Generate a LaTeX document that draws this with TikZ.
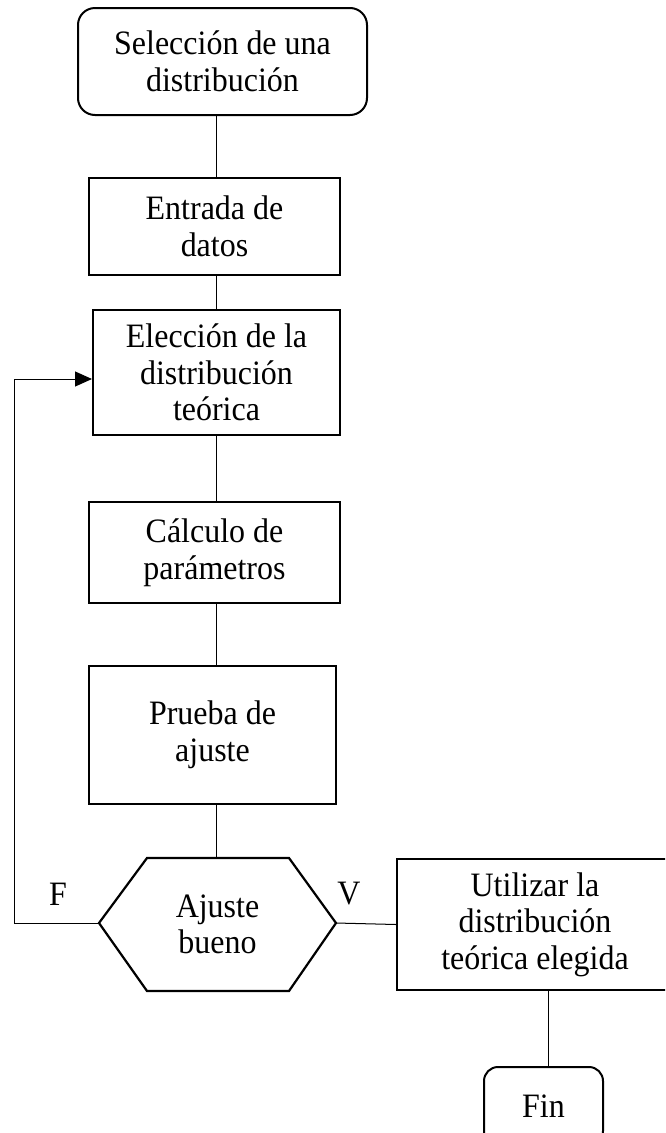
\documentclass[tikz,border=0pt]{standalone}
\usepackage{fontspec}
\setmainfont{Liberation Serif}
\newfontfamily\tallserif[FakeStretch=0.935]{Liberation Serif}
\usetikzlibrary{arrows.meta}
\begin{document}
\begin{tikzpicture}[x=1pt,y=-1pt,
  txt/.style={font=\tallserif\fontsize{34.2}{36.5}\selectfont, align=center, inner sep=0pt},
  box/.style={txt, draw, line width=2pt},
  rbox/.style={box, rounded corners=17pt},
  conn/.style={draw, line width=1pt},
  hexline/.style={draw, line width=2.2pt, line join=miter}]
\useasboundingbox (0,0) rectangle (665,1133);
\clip (0,0) rectangle (665,1133);
% spine
\coordinate (sx) at (216,0);
\coordinate (fx) at (548,0);
% nodes
\node[rbox, minimum width=289pt, minimum height=107pt] (start) at (222.5,61.5) {Selección de una\\distribución};
\node[box, minimum width=251pt, minimum height=97pt] (entrada) at (214.5,226.5) {Entrada de\\datos};
\node[box, minimum width=247pt, minimum height=125pt] (eleccion) at (216.5,372.5) {Elección de la\\distribución\\teórica};
\node[box, minimum width=251pt, minimum height=101pt] (calculo) at (214.5,552.5) {Cálculo de\\parámetros};
\node[box, minimum width=247pt, minimum height=138pt] (prueba) at (212.5,735) {Prueba de\\ajuste};
\node[txt] (ajuste) at (217.5,924.5) {Ajuste\\bueno};
\coordinate (hl) at (99,923);
\coordinate (hr) at (336,923);
\coordinate (htl) at (147,858);
\coordinate (htr) at (289,858);
\coordinate (hbl) at (147,991);
\coordinate (hbr) at (289,991);
\path[hexline] (hl) -- (htl) -- (htr) -- (hr) -- (hbr) -- (hbl) -- cycle;
\node[box, minimum width=276pt, minimum height=131pt] (utilizar) at (535,924.5) {Utilizar la\\distribución\\teórica elegida};
\node[rbox, rounded corners=14pt, minimum width=119pt, minimum height=78pt] (fin) at (543.5,1106) {Fin};
\node[txt] (lf) at (58,894) {F};
\node[txt] (lv) at (349,894) {V};
% connectors
\draw[conn] (sx |- start.south) -- (sx |- entrada.north);
\draw[conn] (sx |- entrada.south) -- (sx |- eleccion.north);
\draw[conn] (sx |- eleccion.south) -- (sx |- calculo.north);
\draw[conn] (sx |- calculo.south) -- (sx |- prueba.north);
\draw[conn] (sx |- prueba.south) -- (sx |- htl);
\coordinate (lp) at (14,379);
\draw[conn, -{Triangle[length=17pt,width=15pt]}] (hl) -| (lp) -- (eleccion.west |- lp);
\draw[conn] (hr) -- (utilizar.west);
\draw[conn] (fx |- utilizar.south) -- (fx |- fin.north);
\end{tikzpicture}
\end{document}
